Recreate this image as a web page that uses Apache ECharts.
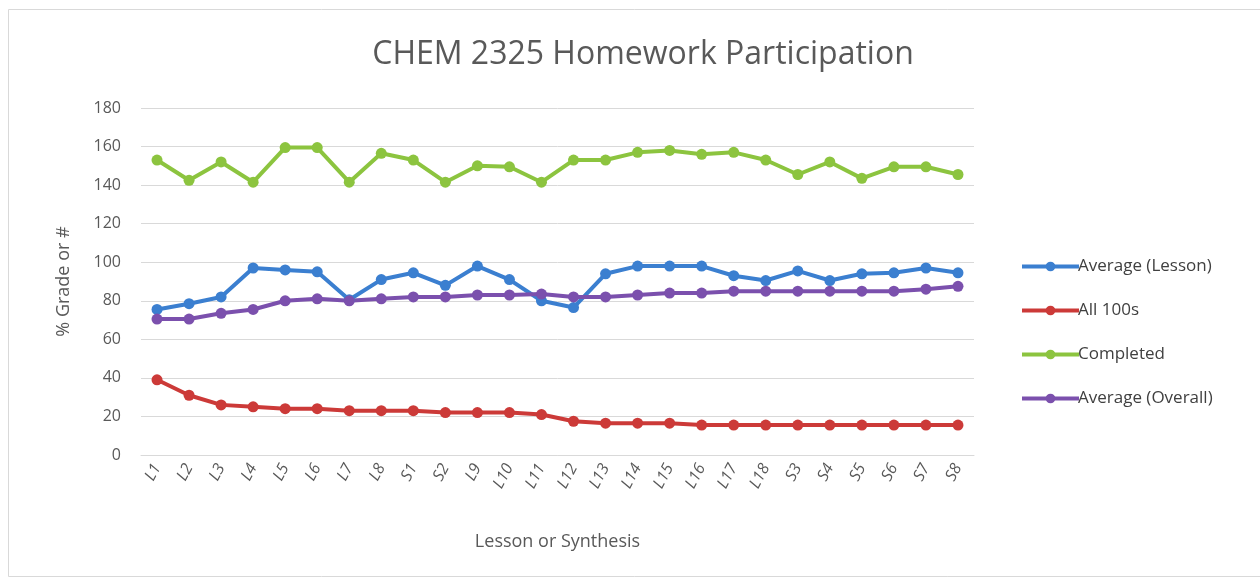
<!DOCTYPE html>
<html>
<head>
<meta charset="utf-8">
<script src="https://cdn.jsdelivr.net/npm/echarts@6/dist/echarts.min.js"></script>
<style>
  html, body { margin: 0; padding: 0; background: #fff; }
  #chart { width: 1260px; height: 581px; }
</style>
</head>
<body>
<div id="chart"></div>
<script>
const categories = ['L1', 'L2', 'L3', 'L4', 'L5', 'L6', 'L7', 'L8', 'S1', 'S2', 'L9', 'L10', 'L11',
  'L12', 'L13', 'L14', 'L15', 'L16', 'L17', 'L18', 'S3', 'S4', 'S5', 'S6', 'S7', 'S8']

const avgLesson = [75.5, 78.5, 82, 97, 96, 95, 80.5, 91, 94.5, 88, 98, 91, 80, 76.5, 94, 98, 98, 98,
  93, 90.5, 95.5, 90.5, 94, 94.5, 97, 94.5]
const all100s = [39, 31, 26, 25, 24, 24, 23, 23, 23, 22, 22, 22, 21, 17.5, 16.5, 16.5, 16.5, 15.5,
  15.5, 15.5, 15.5, 15.5, 15.5, 15.5, 15.5, 15.5]
const completed = [153, 142.5, 152, 141.5, 159.5, 159.5, 141.5, 156.5, 153, 141.5, 150, 149.5, 141.5,
  153, 153, 157, 158, 156, 157, 153, 145.5, 152, 143.5, 149.5, 149.5, 145.5]
const avgOverall = [70.5, 70.5, 73.5, 75.5, 80, 81, 80, 81, 82, 82, 83, 83, 83.5, 82, 82, 83, 84, 84,
  85, 85, 85, 85, 85, 85, 86, 87.5]

const yTicks = { min: 0, max: 180, interval: 20 }

const chart = echarts.init(document.getElementById('chart'))

const mkSeries = (name, data, color) => ({
  name: name,
  type: 'line',
  data: data,
  symbol: 'circle',
  symbolSize: 11,
  showSymbol: true,
  lineStyle: { width: 4, color: color },
  itemStyle: { color: color },
  emphasis: { disabled: true },
})

const option = {
  animation: false,
  textStyle: { fontFamily: 'Open Sans' },
  graphic: [
    {
      type: 'rect',
      shape: { x: 8.5, y: 9.5, width: 1260, height: 567 },
      style: { fill: 'none', stroke: '#d9d9d9', lineWidth: 1 },
    },
  ],
  title: {
    text: 'CHEM 2325 Homework Participation',
    left: 638,
    textAlign: 'center',
    top: 34,
    textStyle: { color: '#595959', fontSize: 32, fontWeight: 'normal', fontFamily: 'Open Sans' },
  },
  legend: {
    orient: 'vertical',
    left: 1015,
    top: 253,
    itemGap: 27,
    itemWidth: 57,
    itemHeight: 12,
    lineStyle: { width: 4 },
    textStyle: { color: '#404040', fontSize: 17, padding: [0, 0, 0, -6] },
    data: ['Average (Lesson)', 'All 100s', 'Completed', 'Average (Overall)'],
  },
  grid: {
    left: 141,
    right: 286,
    top: 108,
    bottom: 126,
  },
  xAxis: {
    type: 'category',
    data: categories,
    boundaryGap: true,
    name: 'Lesson or Synthesis',
    nameLocation: 'middle',
    nameGap: 78,
    nameTextStyle: { color: '#595959', fontSize: 18 },
    axisLine: { lineStyle: { color: '#d9d9d9' } },
    axisTick: { show: false },
    axisLabel: { rotate: 62, color: '#595959', fontSize: 16, margin: 10, fontStyle: 'italic' },
  },
  yAxis: {
    type: 'value',
    min: yTicks.min,
    max: yTicks.max,
    interval: yTicks.interval,
    name: '% Grade or #',
    nameLocation: 'middle',
    nameGap: 68,
    nameTextStyle: { color: '#595959', fontSize: 18 },
    axisLine: { show: false },
    axisTick: { show: false },
    axisLabel: { color: '#595959', fontSize: 16, margin: 20 },
    splitLine: { lineStyle: { color: '#d9d9d9', width: 1 } },
  },
  series: [
    mkSeries('Average (Lesson)', avgLesson, '#3b7fd0'),
    mkSeries('All 100s', all100s, '#cc3a38'),
    mkSeries('Completed', completed, '#8cc43f'),
    mkSeries('Average (Overall)', avgOverall, '#7b50ad'),
  ],
}

chart.setOption(option)
</script>
</body>
</html>
